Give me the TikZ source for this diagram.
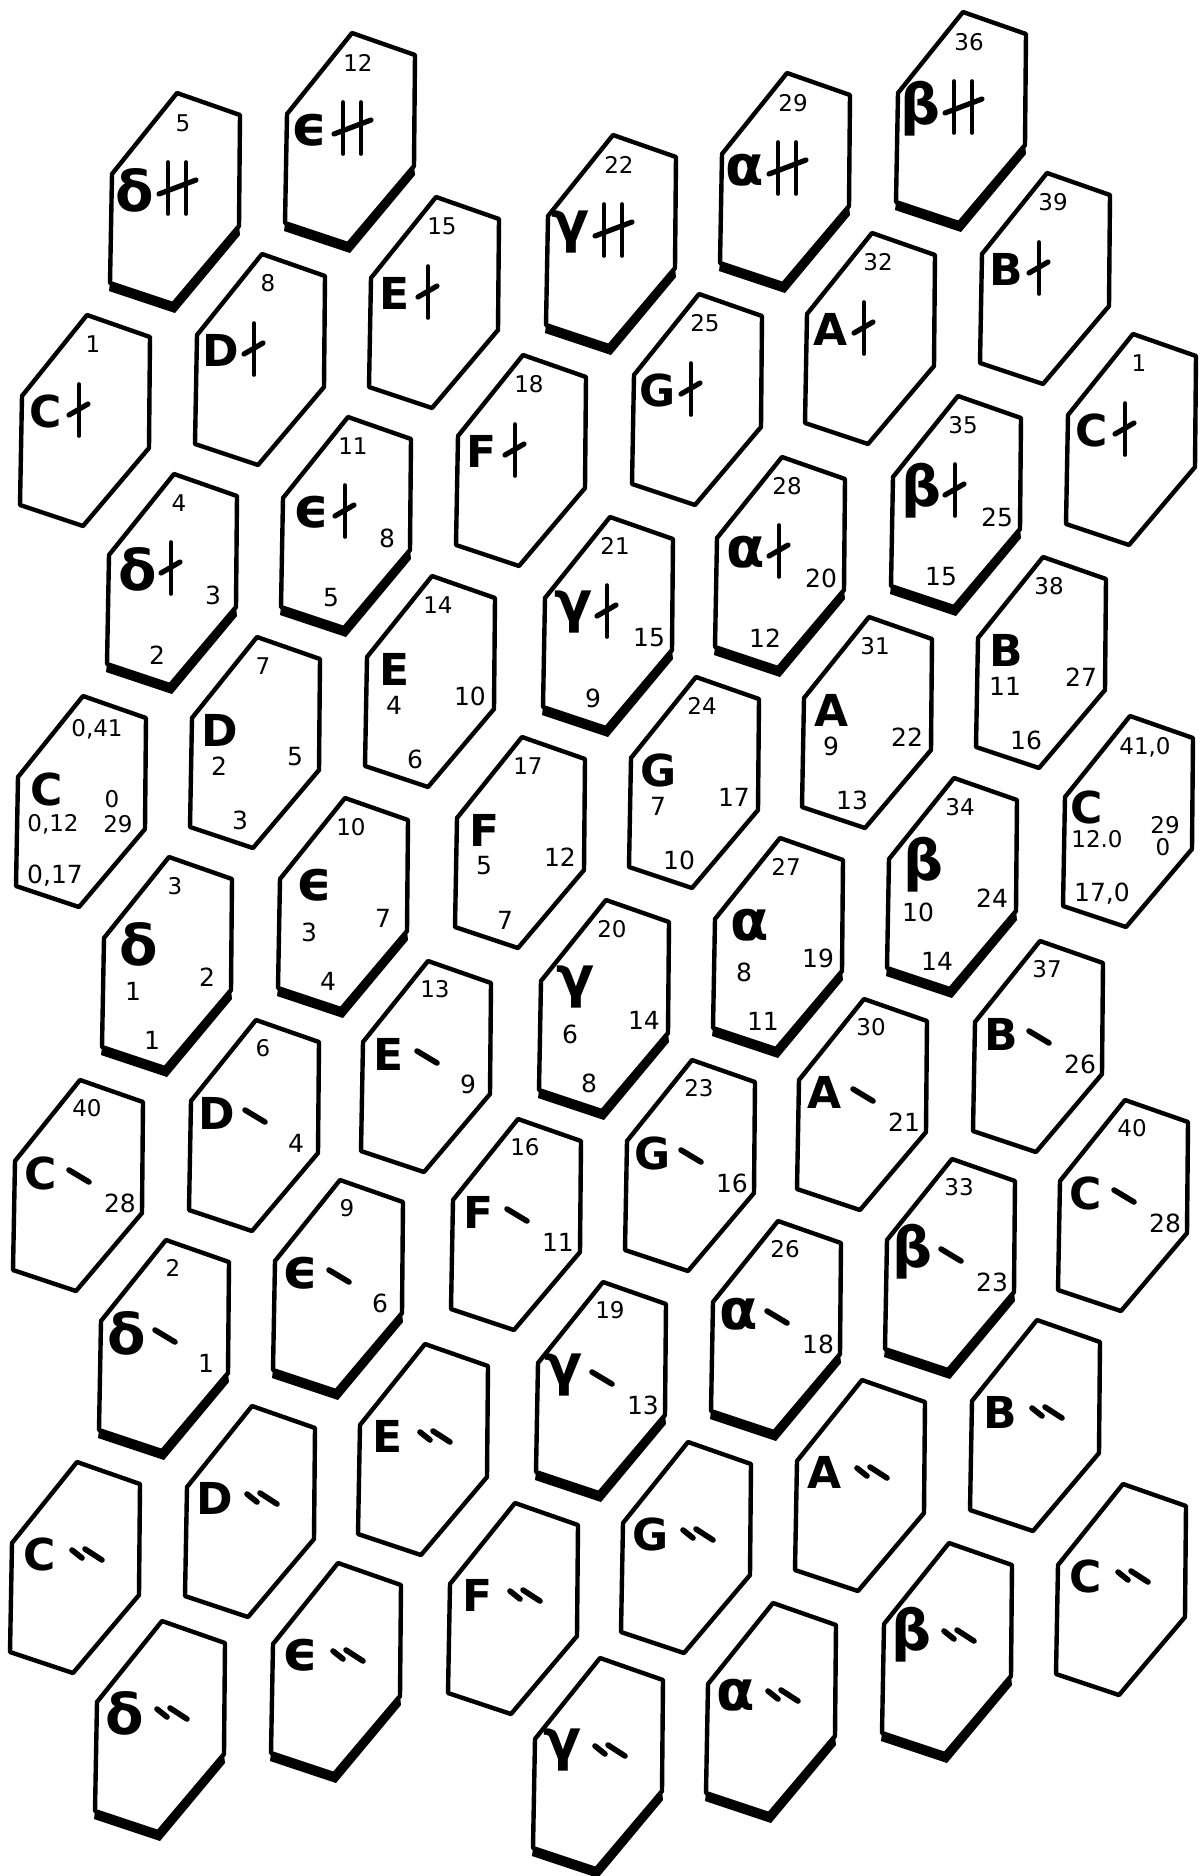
\documentclass[tikz,border=0pt]{standalone}
\usepackage{fontspec}
\newfontfamily\keyfont{DejaVu Sans}
\newcommand\gk{\fontsize{28}{28}\selectfont}
\tikzset{
 keyline/.style={line width=2.2pt, line join=round},
 numt/.style={font=\keyfont\fontsize{11.5}{11.5}\selectfont, inner sep=0pt},
 numi/.style={font=\keyfont\fontsize{12.5}{12.5}\selectfont, inner sep=0pt},
 lett/.style={font=\keyfont\bfseries\fontsize{22}{22}\selectfont, inner sep=0pt},
 accst/.style={line width=1.8pt, line cap=round},
 barst/.style={line width=2.6pt, line cap=round},
 dashst/.style={line width=2.8pt, line cap=round},
}
\newcommand\pmark[1]{\begin{scope}[shift={#1}]
 \draw[accst] (0,-26) -- (0,26);
 \draw[barst] (-10,5) -- (9,-6);
\end{scope}}
\newcommand\ppmark[1]{\begin{scope}[shift={#1}]
 \draw[accst] (-9,-26) -- (-9,26);
 \draw[accst] (9,-26) -- (9,26);
 \draw[barst] (-18,6) -- (19,-8);
\end{scope}}
\newcommand\mmark[1]{\begin{scope}[shift={#1}]
 \draw[dashst] (-10,-6) -- (10,6);
\end{scope}}
\newcommand\ddmark[1]{\begin{scope}[shift={#1}]
 \draw[dashst] (-15,-5) -- (-5,3);
 \draw[dashst] (-2,-6) -- (15,5);
\end{scope}}
\newcommand\hexbody[1]{%
 \ifnum#1=1
  \fill (-67,190) -- (-4,211) -- (62,133) -- (63,142) -- (-2,220) -- (-68,198) -- cycle;
 \fi
 \draw[keyline] (0,0) -- (63,22) -- (62,133) -- (-4,211) -- (-67,190) -- (-65,81) -- cycle;}
\newcommand\keyP[5]{\begin{scope}[shift={(#2,#3)}]
 \hexbody{0}
 \node[numt] (#1t) at (6,29) {#5};
 \node[lett] (#1l) at (-41,96) {#4};
 \pmark{(-8,95)}
\end{scope}}
\newcommand\keyGP[7]{\begin{scope}[shift={(#2,#3)}]
 \hexbody{1}
 \node[numt] (#1t) at (5,29) {#5};
 \node[lett] (#1l) at (-36,95) {#4};
 \pmark{(-3,94)}
 \node[numi] (#1r) at (39,121) {#6};
 \node[numi] (#1b) at (-17,181) {#7};
\end{scope}}
\newcommand\keyPP[5]{\begin{scope}[shift={(#2,#3)}]
 \hexbody{1}
 \node[numt] (#1t) at (6,30) {#5};
 \node[lett] (#1l) at (-42,97) {#4};
 \ppmark{(0,95)}
\end{scope}}
\newcommand\keyN[9]{\begin{scope}[shift={(#2,#3)}]
 \hexbody{#4}
 \node[numt] (#1t) at (6,29) {#6};
 \ifnum#4=1
  \node[lett] (#1l) at (-30,87) {#5};
  \node[numi] (#1a) at (-36,134) {#7};
 \else
  \node[lett] (#1l) at (-37,93) {#5};
  \node[numi] (#1a) at (-38,129) {#7};
 \fi
 \node[numi] (#1r) at (38,120) {#8};
 \node[numi] (#1b) at (-17,183) {#9};
\end{scope}}
\newcommand\keyM[7]{\begin{scope}[shift={(#2,#3)}]
 \hexbody{#4}
 \node[numt] (#1t) at (7,28) {#6};
 \node[lett] (#1l) at (-39,93) {#5};
 \mmark{(-1,96)}
 \node[numi] (#1r) at (40,123) {#7};
\end{scope}}
\newcommand\keyDD[5]{\begin{scope}[shift={(#2,#3)}]
 \hexbody{#4}
 \node[lett] (#1l) at (-37,92) {#5};
 \ddmark{(10,93)}
\end{scope}}
\begin{document}
\begin{tikzpicture}[x=0.5pt,y=-0.5pt]
\useasboundingbox (0,0) rectangle (1200,1876);
% col 0 C
\keyP{c0a}{87}{315}{C}{1}
\begin{scope}[shift={(83,696)}]
 \hexbody{0}
 \node[numt] (c0bt) at (14,33) {0,41};
 \node[lett] (c0bl) at (-36,93) {C};
 \node[numt] (c0bz) at (29,103) {0};
 \node[numt] (c0br) at (35,128) {29};
 \node[numt] (c0ba) at (-30,128) {0,12};
 \node[numi] (c0bb) at (-28,180) {0,17};
\end{scope}
\keyM{c0c}{80}{1080}{0}{C}{40}{28}
\keyDD{c0d}{77}{1462}{0}{C}
% col1 delta
\keyPP{c1a}{177}{93}{\gk δ}{5}
\keyGP{c1b}{174}{474}{\gk δ}{4}{3}{2}
\keyN{c1c}{169}{857}{1}{\gk δ}{3}{1}{2}{1}
\keyM{c1d}{166}{1240}{1}{\gk δ}{2}{1}
\keyDD{c1e}{162}{1621}{1}{\gk δ}
% col2 D
\keyP{c2a}{262}{254}{D}{8}
\keyN{c2b}{257}{637}{0}{D}{7}{2}{5}{3}
\keyM{c2c}{256}{1020}{0}{D}{6}{4}
\keyDD{c2d}{252}{1406}{0}{D}
% col3 epsilon
\keyPP{c3a}{352}{33}{\gk ϵ}{12}
\keyGP{c3b}{348}{417}{\gk ϵ}{11}{8}{5}
\keyN{c3c}{345}{798}{1}{\gk ϵ}{10}{3}{7}{4}
\keyM{c3d}{340}{1180}{1}{\gk ϵ}{9}{6}
\keyDD{c3e}{338}{1563}{1}{\gk ϵ}
% col4 E
\keyP{c4a}{436}{197}{E}{15}
\keyN{c4b}{432}{576}{0}{E}{14}{4}{10}{6}
\keyM{c4c}{428}{961}{0}{E}{13}{9}
\keyDD{c4d}{425}{1344}{0}{E}
% col5 F
\keyP{c5a}{523}{355}{F}{18}
\keyN{c5b}{522}{737}{0}{F}{17}{5}{12}{7}
\keyM{c5c}{518}{1119}{0}{F}{16}{11}
\keyDD{c5d}{515}{1503}{0}{F}
% col6 gamma
\keyPP{c6a}{613}{135}{\gk γ}{22}
\keyGP{c6b}{610}{517}{\gk γ}{21}{15}{9}
\keyN{c6c}{606}{900}{1}{\gk γ}{20}{6}{14}{8}
\keyM{c6d}{603}{1282}{1}{\gk γ}{19}{13}
\keyDD{c6e}{600}{1658}{1}{\gk γ}
% col7 G
\keyP{c7a}{699}{294}{G}{25}
\keyN{c7b}{696}{677}{0}{G}{24}{7}{17}{10}
\keyM{c7c}{692}{1060}{0}{G}{23}{16}
\keyDD{c7d}{688}{1442}{0}{G}
% col8 alpha
\keyPP{c8a}{787}{73}{\gk α}{29}
\keyGP{c8b}{782}{457}{\gk α}{28}{20}{12}
\keyN{c8c}{780}{838}{1}{\gk α}{27}{8}{19}{11}
\keyM{c8d}{778}{1221}{1}{\gk α}{26}{18}
\keyDD{c8e}{773}{1603}{1}{\gk α}
% col9 A
\keyP{c9a}{872}{233}{A}{32}
\keyN{c9b}{869}{617}{0}{A}{31}{9}{22}{13}
\keyM{c9c}{864}{999}{0}{A}{30}{21}
\keyDD{c9d}{862}{1380}{0}{A}
% col10 beta
\keyPP{c10a}{963}{12}{\gk β}{36}
\keyGP{c10b}{958}{396}{\gk β}{35}{25}{15}
\keyN{c10c}{954}{778}{1}{\gk β}{34}{10}{24}{14}
\keyM{c10d}{952}{1159}{1}{\gk β}{33}{23}
\keyDD{c10e}{949}{1543}{1}{\gk β}
% col11 B
\keyP{c11a}{1047}{173}{B}{39}
\keyN{c11b}{1043}{557}{0}{B}{38}{11}{27}{16}
\keyM{c11c}{1040}{941}{0}{B}{37}{26}
\keyDD{c11d}{1037}{1320}{0}{B}
% col12 C
\keyP{c12a}{1133}{334}{C}{1}
\begin{scope}[shift={(1130,716)}]
 \hexbody{0}
 \node[numt] (c12bt) at (15,31) {41,0};
 \node[lett] (c12bl) at (-43,91) {C};
 \node[numt] (c12ba) at (-33,123) {12.0};
 \node[numt] (c12br) at (35,109) {29};
 \node[numt] (c12bz) at (33,131) {0};
 \node[numi] (c12bb) at (-28,178) {17,0};
\end{scope}
\keyM{c12c}{1125}{1100}{0}{C}{40}{28}
\keyDD{c12d}{1123}{1484}{0}{C}
\end{tikzpicture}
\end{document}
